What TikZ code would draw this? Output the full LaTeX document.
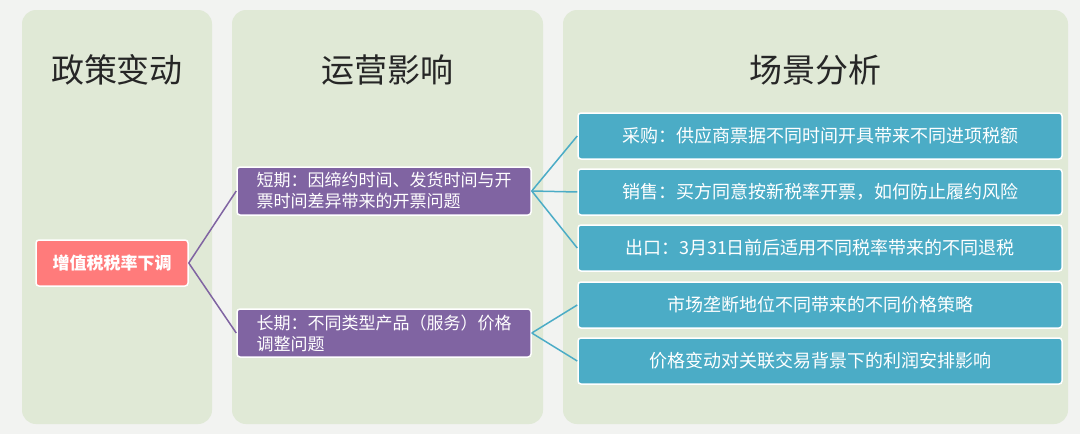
\documentclass[tikz,border=0pt]{standalone}
\usepackage{fontspec}
\setmainfont{Noto Sans CJK SC}
\definecolor{pagebg}{HTML}{F2F3F1}
\definecolor{panelbg}{HTML}{E0E9D6}
\definecolor{rootred}{HTML}{FF7B7B}
\definecolor{midpurple}{HTML}{8064A2}
\definecolor{leafteal}{HTML}{4BACC6}
\begin{document}
\begin{tikzpicture}[x=1pt,y=-1pt,
  panel/.style = {fill=panelbg, rounded corners=14pt},
  head/.style = {font=\fontsize{33}{38}\selectfont, text=black!85},
  root/.style = {draw=white, line width=1.5pt, fill=rootred, rounded corners=3pt, text=white, font=\bfseries\fontsize{17}{20}\selectfont, minimum width=152pt, minimum height=46pt},
  mid/.style = {draw=white, line width=1.5pt, fill=midpurple, rounded corners=3pt, text=white, font=\fontsize{17}{21}\selectfont, minimum width=294pt, minimum height=48pt, align=left, inner sep=1pt},
  leaf/.style = {draw=white, line width=1.5pt, fill=leafteal, rounded corners=3pt, text=white, font=\fontsize{18}{21}\selectfont, minimum width=484pt, minimum height=46pt},
  link/.style = {line width=1.5pt}]

    \fill[pagebg] (0,0) rectangle (1080,434);
    \fill[panel] (22,10) rectangle (212,424);
    \fill[panel] (232,10) rectangle (543,424);
    \fill[panel] (563,10) rectangle (1068,424);

    \node[head] (h1) at (117,70) {政策变动};
    \node[head] (h2) at (387,70) {运营影响};
    \node[head] (h3) at (815,70) {场景分析};

    \node[root] (r) at (112,263) {增值税税率下调};

    \node[mid] (m1) at (384,191) {短期：因缔约时间、发货时间与开\\票时间差异带来的开票问题};
    \node[mid] (m2) at (384,333) {长期：不同类型产品（服务）价格\\调整问题};

    \node[leaf] (l1) at (820,136) {采购：供应商票据不同时间开具带来不同进项税额};
    \node[leaf] (l2) at (820,192) {销售：买方同意按新税率开票，如何防止履约风险};
    \node[leaf] (l3) at (820,248) {出口：3月31日前后适用不同税率带来的不同退税};
    \node[leaf] (l4) at (820,305) {市场垄断地位不同带来的不同价格策略};
    \node[leaf] (l5) at (820,361) {价格变动对关联交易背景下的利润安排影响};

    \draw [link, midpurple] (r.east) -- (m1.west);
    \draw [link, midpurple] (r.east) -- (m2.west);

    \draw [link, leafteal] (m1.east) -- (l1.west);
    \draw [link, leafteal] (m1.east) -- (l2.west);
    \draw [link, leafteal] (m1.east) -- (l3.west);

    \draw [link, leafteal] (m2.east) -- (l4.west);
    \draw [link, leafteal] (m2.east) -- (l5.west);

\end{tikzpicture}
\end{document}
